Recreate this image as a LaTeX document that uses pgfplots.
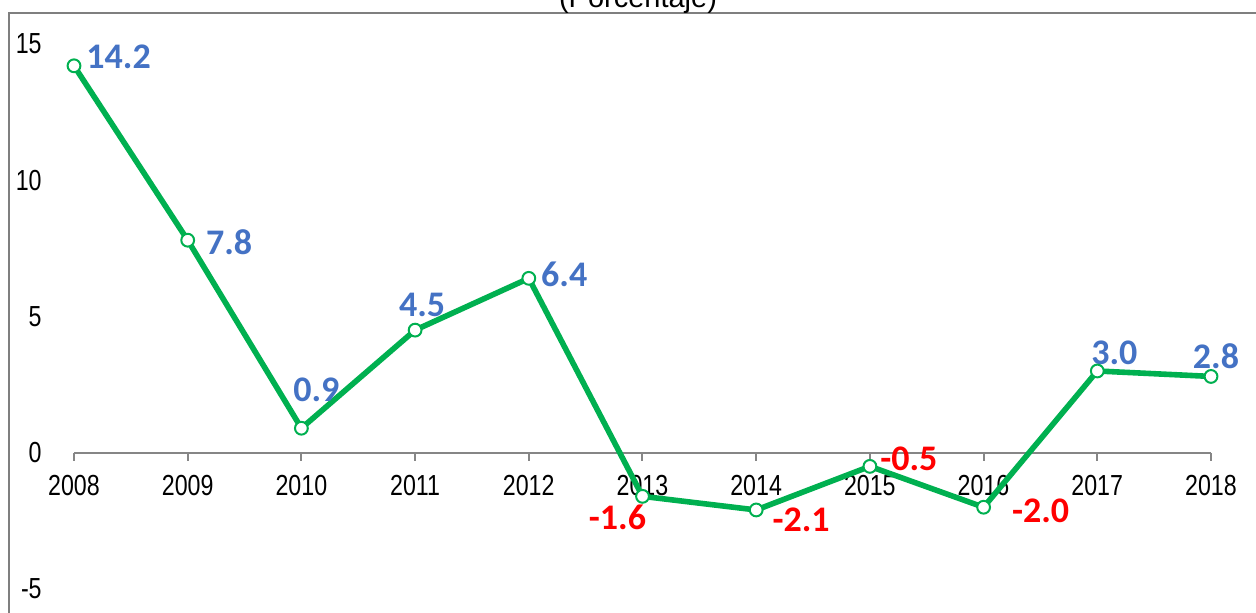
\documentclass[border=0pt]{standalone}
\usepackage{pgfplots}
\pgfplotsset{compat=1.18}
\usepackage{fontspec}
\setmainfont{Liberation Sans}
\newfontfamily\narrow[FakeStretch=0.8]{Liberation Sans}
\newfontfamily\calib{Carlito}
\definecolor{lgreen}{RGB}{0,176,80}
\definecolor{lblue}{RGB}{68,114,196}
\definecolor{lred}{RGB}{255,0,0}
\definecolor{axgray}{RGB}{134,134,134}
\definecolor{frgray}{RGB}{127,127,127}
\begin{document}
\begin{tikzpicture}[x=1pt,y=1pt]
\useasboundingbox (-37,-12) rectangle (591,294.5);
\begin{axis}[at={(0,0)}, anchor=south west, scale only axis,
  width=568.5pt, height=272.5pt,
  xmin=2008, xmax=2018, ymin=-5, ymax=15,
  axis x line=middle, axis y line*=left,
  hide obscured x ticks=false, hide obscured y ticks=false,
  y axis line style={draw=none}, ytick style={draw=none},
  x axis line style={draw=axgray, line width=1pt, -},
  xtick style={draw=axgray, line width=1pt},
  tick align=outside, major tick length=4pt,
  xtick={2008,2009,...,2018}, ytick={-5,0,5,10,15},
  /pgf/number format/1000 sep={},
  /pgf/number format/assume math mode=true,
  xticklabel style={font=\narrow\fontsize{14.5}{14.5}\selectfont, inner sep=0pt, anchor=north, yshift=-7pt},
  yticklabel style={font=\narrow\fontsize{14.5}{14.5}\selectfont, inner sep=0pt, anchor=east, xshift=-12pt},
  clip=false
]
\addplot[lgreen, line width=2.8pt, mark=*, mark size=3.2pt,
  mark options={fill=white, draw=lgreen, line width=1pt}]
  coordinates {(2008,14.2) (2009,7.8) (2010,0.9) (2011,4.5) (2012,6.4) (2013,-1.6) (2014,-2.1) (2015,-0.5) (2016,-2.0) (2017,3.0) (2018,2.8)};
\tikzset{lab/.style={font=\calib\bfseries\fontsize{18}{18}\selectfont, inner sep=0pt}}
\node[lab, text=lblue, anchor=west, xshift=6pt, yshift=4.5pt] at (axis cs:2008,14.2) {14.2};
\node[lab, text=lblue, anchor=west, xshift=9pt, yshift=-1pt] at (axis cs:2009,7.8) {7.8};
\node[lab, text=lblue, xshift=7.5pt, yshift=19pt] at (axis cs:2010,0.9) {0.9};
\node[lab, text=lblue, xshift=3.5pt, yshift=12.5pt] at (axis cs:2011,4.5) {4.5};
\node[lab, text=lblue, anchor=west, xshift=6pt, yshift=2pt] at (axis cs:2012,6.4) {6.4};
\node[lab, text=lred, xshift=-12.5pt, yshift=-10.5pt] at (axis cs:2013,-1.6) {-1.6};
\node[lab, text=lred, anchor=west, xshift=8pt, yshift=-5pt] at (axis cs:2014,-2.1) {-2.1};
\node[lab, text=lred, anchor=west, xshift=5pt, yshift=4pt] at (axis cs:2015,-0.5) {-0.5};
\node[lab, text=lred, anchor=west, xshift=14pt, yshift=-2pt] at (axis cs:2016,-2.0) {-2.0};
\node[lab, text=lblue, xshift=8.5pt, yshift=9pt] at (axis cs:2017,3.0) {3.0};
\node[lab, text=lblue, xshift=2.5pt, yshift=10pt] at (axis cs:2018,2.8) {2.8};
\end{axis}
\draw[frgray, line width=1pt] (-32.5,-30) -- (-32.5,288) -- (650,288);
\node[anchor=base, inner sep=0pt, font=\fontsize{14.5}{14.5}\selectfont] at (282,290.5) {(Porcentaje)};
\end{tikzpicture}
\end{document}
